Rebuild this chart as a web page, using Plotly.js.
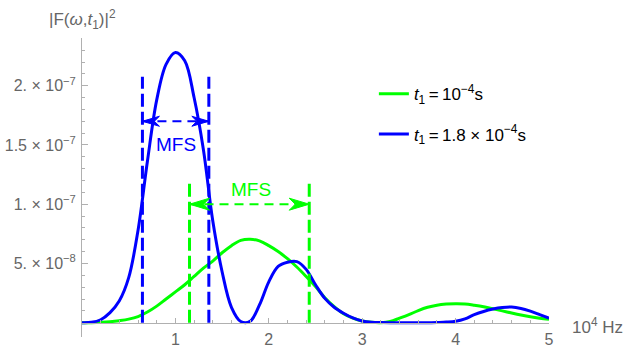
<!DOCTYPE html>
<html>
<head>
<meta charset="utf-8">
<script src="https://cdn.plot.ly/plotly-3.0.1.min.js"></script>
<style>
html, body { margin: 0; padding: 0; background: #fff; }
#graph { width: 630px; height: 350px; }
</style>
</head>
<body>
<div id="graph"></div>
<script>
// frequency in units of 10^4 Hz
var freq = [0, 0.1, 0.2, 0.3, 0.4, 0.5, 0.6, 0.7, 0.8, 0.9,
            1.0, 1.1, 1.2, 1.3, 1.4, 1.5, 1.6, 1.7, 1.8, 1.9,
            2.0, 2.1, 2.2, 2.3, 2.4, 2.5, 2.6, 2.7, 2.8, 2.9,
            3.0, 3.1, 3.2, 3.3, 3.4, 3.5, 3.6, 3.7, 3.8, 3.9,
            4.0, 4.1, 4.2, 4.3, 4.4, 4.5, 4.6, 4.7, 4.8, 4.9, 5.0];

// |F|^2 in units of 1e-8
var powerShort = [0, 0.005, 0.03, 0.08, 0.17, 0.3, 0.52, 0.9, 1.4, 2.0,
                  2.6, 3.2, 3.9, 4.6, 5.2, 5.9, 6.5, 6.95, 7.05, 6.9,
                  6.5, 6.0, 5.4, 4.7, 3.9, 3.05, 2.1, 1.35, 0.75, 0.38,
                  0.14, 0.03, 0, 0.1, 0.38, 0.68, 1.02, 1.3, 1.48, 1.57,
                  1.6, 1.58, 1.48, 1.35, 1.17, 1.0, 0.82, 0.65, 0.5, 0.38, 0.29];
var powerLong = [0, 0.03, 0.25, 0.85, 1.85, 3.8, 7.8, 13.6, 18.8, 21.8,
                 22.8, 22.1, 19.0, 14.6, 8.6, 4.3, 1.3, 0.1, 0.12, 1.5,
                 3.45, 4.75, 5.1, 5.15, 4.5, 3.2, 2.05, 1.3, 0.8, 0.4,
                 0.15, 0.04, 0.01, 0, 0, 0, 0, 0, 0.02, 0.05,
                 0.12, 0.32, 0.68, 0.95, 1.15, 1.28, 1.32, 1.2, 0.97, 0.68, 0.38];
var unit = 1e-8;

// MFS markers
var mfsShort = [1.151, 2.433];
var mfsLong = [0.647, 1.358];
var mfsTopShort = 1.204e-7;
var mfsTopLong = 2.076e-7;
var arrowYShort = 1.0e-7;
var arrowYLong = 1.70e-7;
var labelShort = [1.808, 1.12e-7];
var labelLong = [1.002, 1.50e-7];

var green = '#00ff00';
var blue = '#0000ff';
var grey = '#b0b0b0';
var textGrey = '#666666';
var font = 'Liberation Sans, Arial, sans-serif';

var ymin = -1.207e-8, ymax = 2.4025e-7;
var margin = {l: 82, r: 81, t: 38, b: 13};
var pxPerX = (630 - margin.l - margin.r) / 5;
var pxPerY = (350 - margin.t - margin.b) / (ymax - ymin);

function scaled(arr) {
  return arr.map(function(v) { return v * unit; });
}

function vline(x, top, color) {
  return {x: [x, x], y: [0, top], mode: 'lines', showlegend: false, hoverinfo: 'skip',
          line: {color: color, width: 3, dash: '13px,5px'}};
}

function shaft(xs, y, color) {
  return {x: xs, y: [y, y], mode: 'lines', showlegend: false, hoverinfo: 'skip',
          line: {color: color, width: 2, dash: '9px,6px'}};
}

// swept arrowhead, dir = -1 points left, +1 points right
function head(tipX, tipY, dir, len, hw, color) {
  var bx = tipX - dir * len / pxPerX;
  var nx = tipX - dir * 0.7 * len / pxPerX;
  var dy = hw / pxPerY;
  return {x: [tipX, bx, nx, bx, tipX], y: [tipY, tipY + dy, tipY, tipY - dy, tipY],
          mode: 'lines', fill: 'toself', fillcolor: color, showlegend: false,
          hoverinfo: 'skip', line: {color: color, width: 1}};
}

var traces = [
  {x: freq, y: scaled(powerShort), mode: 'lines',
   name: '<i>t</i><sub>1</sub>\u2009=\u200910<sup>\u22124</sup>s',
   legendgroup: 'a', line: {color: green, width: 3, shape: 'spline'}},
  {x: freq, y: scaled(powerLong), mode: 'lines',
   name: '<i>t</i><sub>1</sub>\u2009=\u20091.8 \u00d7 10<sup>\u22124</sup>s',
   legendgroup: 'b', line: {color: blue, width: 3, shape: 'spline'}},
  vline(mfsLong[0], mfsTopLong, blue),
  vline(mfsLong[1], mfsTopLong, blue),
  vline(mfsShort[0], mfsTopShort, green),
  vline(mfsShort[1], mfsTopShort, green),
  shaft(mfsLong, arrowYLong, blue),
  shaft(mfsShort, arrowYShort, green),
  head(mfsLong[0], arrowYLong, -1, 17, 5, blue),
  head(mfsLong[1], arrowYLong, 1, 17, 5, blue),
  head(mfsShort[0], arrowYShort, -1, 20, 6, green),
  head(mfsShort[1], arrowYShort, 1, 20, 6, green)
];

var yMinor = [];
for (var i = 1; i <= 24; i++) yMinor.push(i * 1e-8);

var layout = {
  width: 630, height: 350,
  margin: margin,
  paper_bgcolor: '#fff', plot_bgcolor: '#fff',
  font: {family: font, size: 16, color: textGrey},
  showlegend: true,
  legend: {x: 0.625, y: 0.872, xanchor: 'left', yanchor: 'top', bgcolor: 'rgba(0,0,0,0)',
           font: {family: font, size: 17, color: '#000'}, tracegroupgap: 15},
  xaxis: {
    range: [0, 5], anchor: 'free', position: (0 - ymin) / (ymax - ymin),
    showline: true, linecolor: grey, linewidth: 1,
    showgrid: false, zeroline: false,
    ticks: 'inside', ticklen: 5, tickcolor: grey,
    tickvals: [1, 2, 3, 4, 5], ticktext: ['1', '2', '3', '4', '5'],
    tickfont: {family: font, size: 16, color: textGrey},
    ticklabelstandoff: 2,
    minor: {tickmode: 'linear', tick0: 0, dtick: 0.2, ticks: 'inside', ticklen: 3, tickcolor: grey}
  },
  yaxis: {
    range: [ymin, ymax],
    showline: true, linecolor: grey, linewidth: 1,
    showgrid: false, zeroline: false,
    ticks: 'inside', ticklen: 6, tickcolor: grey,
    tickvals: [5e-8, 1e-7, 1.5e-7, 2e-7],
    ticktext: ['5. \u00d7 10<sup>\u22128</sup>', '1. \u00d7 10<sup>\u22127</sup>',
               '1.5 \u00d7 10<sup>\u22127</sup>', '2. \u00d7 10<sup>\u22127</sup>'],
    tickfont: {family: font, size: 16, color: textGrey},
    ticklabelstandoff: 2,
    minor: {tickmode: 'array', tickvals: yMinor, ticks: 'inside', ticklen: 3, tickcolor: grey}
  },
  annotations: [
    {xref: 'paper', yref: 'paper', x: 0, y: 1, xanchor: 'center', yanchor: 'bottom', yshift: 4,
     text: '|F(<i>\u03c9</i>,<i>t</i><sub>1</sub>)|<sup>2</sup>', showarrow: false,
     font: {family: font, size: 17, color: textGrey}},
    {xref: 'x', yref: 'y', x: 5, y: 0, xanchor: 'left', yanchor: 'middle', xshift: 21, yshift: -3,
     text: '10<sup>4</sup> Hz', showarrow: false, font: {family: font, size: 17, color: textGrey}},
    {xref: 'x', yref: 'y', x: labelLong[0], y: labelLong[1], text: 'MFS', showarrow: false,
     font: {family: font, size: 19, color: blue}},
    {xref: 'x', yref: 'y', x: labelShort[0], y: labelShort[1], text: 'MFS', showarrow: false,
     font: {family: font, size: 19, color: green}}
  ]
};

Plotly.newPlot('graph', traces, layout, {staticPlot: true, displayModeBar: false});
</script>
</body>
</html>
